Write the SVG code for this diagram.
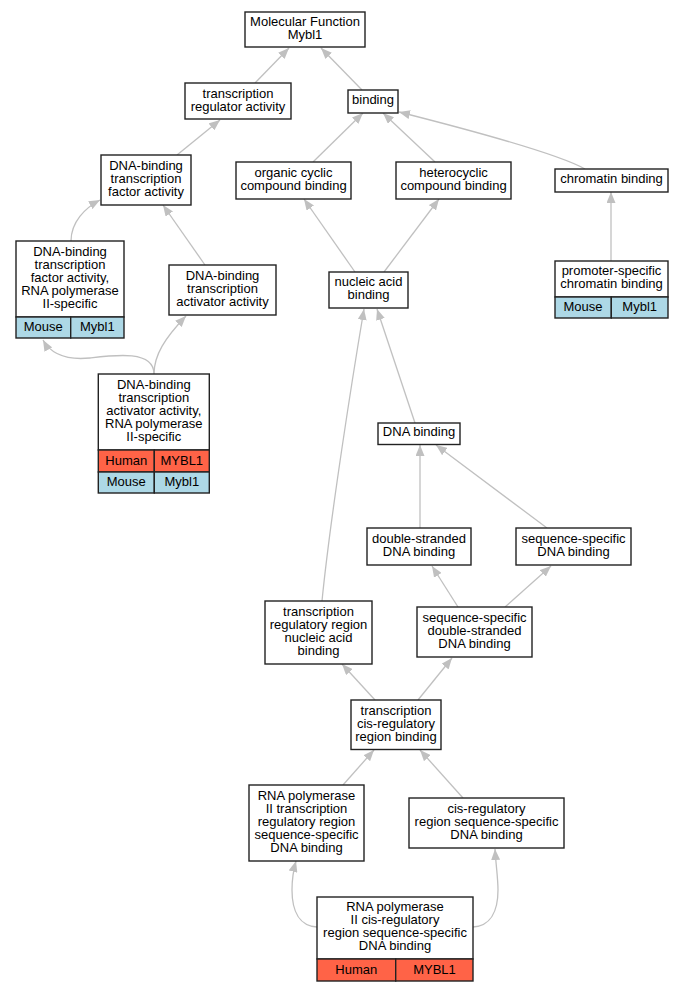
<svg xmlns="http://www.w3.org/2000/svg" width="684" height="992" viewBox="0 0 684 992">
<style>
text{font-family:"Liberation Sans",Arial,sans-serif;font-size:13px;text-anchor:middle;fill:#000}
.b{fill:#fff;stroke:#222;stroke-width:1.4}
.h{fill:#ff6347;stroke:#222;stroke-width:1.4}
.m{fill:#add8e6;stroke:#222;stroke-width:1.4}
.e path{fill:none;stroke:#c0c0c0;stroke-width:1.3;marker-end:url(#a)}
</style>
<defs>
<marker id="a" markerUnits="userSpaceOnUse" viewBox="0 0 11 9" refX="11" refY="4.5" markerWidth="11" markerHeight="9" orient="auto">
<path d="M0,0 L11,4.5 L0,9 z" fill="#c0c0c0"/>
</marker>
</defs>
<rect width="684" height="992" fill="#fff"/>
<g class="e" id="edges">
<path d="M255,83 L289,48"/>
<path d="M362,90 L321,48"/>
<path d="M177,155 L220,120"/>
<path d="M313,162 L363,113"/>
<path d="M435,162 L383,113"/>
<path d="M585,169 C560,155 470,130 399,112"/>
<path d="M71,241 C71,222 85,208 100,200"/>
<path d="M205,265 L163,205"/>
<path d="M355,272 L304,199"/>
<path d="M384,272 L439,199"/>
<path d="M611,261 L611,192"/>
<path d="M154,374 C154,350 115,355 90,358 C70,360 52,356 43,340"/>
<path d="M154,374 C154,355 165,338 186,316"/>
<path d="M415,423 L377,309"/>
<path d="M322,601 C330,520 352,380 364,309"/>
<path d="M420,528 L420,445"/>
<path d="M547,528 L436,445"/>
<path d="M458,607 L432,566"/>
<path d="M505,607 L551,566"/>
<path d="M375,700 L342,664"/>
<path d="M418,700 L452,658"/>
<path d="M343,785 L374,750"/>
<path d="M463,798 L420,750"/>
<path d="M317,927 C300,926 292,912 292,890 C292,878 294,868 296,861"/>
<path d="M473,927 C490,926 498,912 498,890 C498,878 496,866 495,849"/>
</g>
<g id="n1"><rect class="b" x="245" y="12" width="120" height="35"/><text x="305" y="25.8">Molecular Function</text><text x="305" y="38.8">Mybl1</text></g>
<g id="n2"><rect class="b" x="185" y="83" width="106" height="36"/><text x="238" y="97.8">transcription</text><text x="238" y="110.8">regulator activity</text></g>
<g id="n3"><rect class="b" x="348" y="90" width="50" height="23"/><text x="373" y="104.3">binding</text></g>
<g id="n4"><rect class="b" x="101" y="155" width="90" height="50"/><text x="146" y="169.8">DNA-binding</text><text x="146" y="182.8">transcription</text><text x="146" y="195.8">factor activity</text></g>
<g id="n5"><rect class="b" x="236" y="162" width="115" height="37"/><text x="293.5" y="176.8">organic cyclic</text><text x="293.5" y="189.8">compound binding</text></g>
<g id="n6"><rect class="b" x="396" y="162" width="115" height="37"/><text x="453.5" y="176.8">heterocyclic</text><text x="453.5" y="189.8">compound binding</text></g>
<g id="n7"><rect class="b" x="555" y="169" width="113" height="23"/><text x="611.5" y="183.3">chromatin binding</text></g>
<g id="n8"><rect class="b" x="16" y="241" width="108" height="76"/><rect class="m" x="16" y="317" width="54.7" height="21"/><rect class="m" x="70.7" y="317" width="53.3" height="21"/><text x="70" y="255.8">DNA-binding</text><text x="70" y="268.8">transcription</text><text x="70" y="281.8">factor activity,</text><text x="70" y="294.8">RNA polymerase</text><text x="70" y="307.8">II-specific</text><text x="43.3" y="331">Mouse</text><text x="97.3" y="331">Mybl1</text></g>
<g id="n9"><rect class="b" x="169" y="265" width="107" height="50"/><text x="222.5" y="279.8">DNA-binding</text><text x="222.5" y="292.8">transcription</text><text x="222.5" y="305.8">activator activity</text></g>
<g id="n10"><rect class="b" x="329" y="272" width="79" height="36"/><text x="368.5" y="286.3">nucleic acid</text><text x="368.5" y="299.3">binding</text></g>
<g id="n11"><rect class="b" x="555" y="261" width="113" height="36"/><rect class="m" x="555" y="297" width="56.3" height="21"/><rect class="m" x="611.3" y="297" width="56.7" height="21"/><text x="611.5" y="275.3">promoter-specific</text><text x="611.5" y="288.3">chromatin binding</text><text x="583" y="311">Mouse</text><text x="639.7" y="311">Mybl1</text></g>
<g id="n12"><rect class="b" x="98.3" y="374" width="111" height="76"/><rect class="h" x="98.3" y="450" width="56" height="22"/><rect class="h" x="154.3" y="450" width="55" height="22"/><rect class="m" x="98.3" y="472" width="56" height="21"/><rect class="m" x="154.3" y="472" width="55" height="21"/><text x="153.8" y="388.8">DNA-binding</text><text x="153.8" y="401.8">transcription</text><text x="153.8" y="414.8">activator activity,</text><text x="153.8" y="427.8">RNA polymerase</text><text x="153.8" y="440.8">II-specific</text><text x="126.3" y="464.5">Human</text><text x="181.8" y="464.5">MYBL1</text><text x="126.3" y="486">Mouse</text><text x="181.8" y="486">Mybl1</text></g>
<g id="n13"><rect class="b" x="378" y="423" width="82" height="21.5"/><text x="419" y="436.3">DNA binding</text></g>
<g id="n14"><rect class="b" x="367" y="528" width="104" height="37"/><text x="419" y="542.8">double-stranded</text><text x="419" y="555.8">DNA binding</text></g>
<g id="n15"><rect class="b" x="516" y="528" width="115" height="37"/><text x="573.5" y="542.8">sequence-specific</text><text x="573.5" y="555.8">DNA binding</text></g>
<g id="n16"><rect class="b" x="265" y="601" width="107" height="63"/><text x="318.5" y="615.8">transcription</text><text x="318.5" y="628.8">regulatory region</text><text x="318.5" y="641.8">nucleic acid</text><text x="318.5" y="654.8">binding</text></g>
<g id="n17"><rect class="b" x="417" y="607" width="115" height="50"/><text x="474.5" y="621.8">sequence-specific</text><text x="474.5" y="634.8">double-stranded</text><text x="474.5" y="647.8">DNA binding</text></g>
<g id="n18"><rect class="b" x="351" y="700" width="90" height="49.5"/><text x="396" y="714.8">transcription</text><text x="396" y="727.8">cis-regulatory</text><text x="396" y="740.8">region binding</text></g>
<g id="n19"><rect class="b" x="249" y="785" width="115" height="76"/><text x="306.5" y="799.8">RNA polymerase</text><text x="306.5" y="812.8">II transcription</text><text x="306.5" y="825.8">regulatory region</text><text x="306.5" y="838.8">sequence-specific</text><text x="306.5" y="851.8">DNA binding</text></g>
<g id="n20"><rect class="b" x="409" y="798" width="155" height="50"/><text x="486.5" y="812.8">cis-regulatory</text><text x="486.5" y="825.8">region sequence-specific</text><text x="486.5" y="838.8">DNA binding</text></g>
<g id="n21"><rect class="b" x="317" y="897" width="156" height="62"/><rect class="h" x="317" y="959" width="78.7" height="22"/><rect class="h" x="395.7" y="959" width="77.3" height="22"/><text x="395" y="911.3">RNA polymerase</text><text x="395" y="924.3">II cis-regulatory</text><text x="395" y="937.3">region sequence-specific</text><text x="395" y="950.3">DNA binding</text><text x="356.3" y="973.5">Human</text><text x="434.5" y="973.5">MYBL1</text></g>
</svg>
